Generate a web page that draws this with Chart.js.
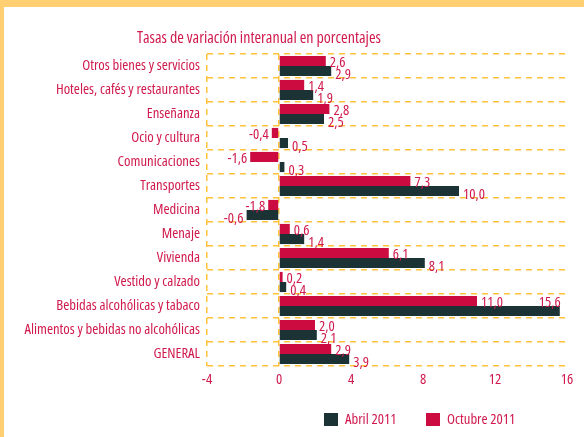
<!DOCTYPE html>
<html>
<head>
<meta charset="utf-8">
<script src="https://cdn.jsdelivr.net/npm/chart.js@4"></script>
<style>
  html, body { margin: 0; padding: 0; background: #fff; }
  #wrap { width: 584px; height: 437px; position: relative; }
</style>
</head>
<body>
<div id="wrap"><canvas id="chart" width="584" height="437"></canvas></div>
<script>
// data
const categories = [
  "Otros bienes y servicios",
  "Hoteles, cafés y restaurantes",
  "Enseñanza",
  "Ocio y cultura",
  "Comunicaciones",
  "Transportes",
  "Medicina",
  "Menaje",
  "Vivienda",
  "Vestido y calzado",
  "Bebidas alcohólicas y tabaco",
  "Alimentos y bebidas no alcohólicas",
  "GENERAL"
];
const octubre2011 = [2.6, 1.4, 2.8, -0.4, -1.6, 7.3, -0.6, 0.6, 6.1, 0.2, 11.0, 2.0, 2.9];
const abril2011   = [2.9, 1.9, 2.5, 0.5, 0.3, 10.0, -1.8, 1.4, 8.1, 0.4, 15.6, 2.1, 3.9];
// value labels as printed on the original (Medicina labels are swapped there)
const octubreText = ["2,6", "1,4", "2,8", "-0,4", "-1,6", "7,3", "-1,8", "0,6", "6,1", "0,2", "11,0", "2,0", "2,9"];
const abrilText   = ["2,9", "1,9", "2,5", "0,5", "0,3", "10,0", "-0,6", "1,4", "8,1", "0,4", "15,6", "2,1", "3,9"];
const xTicks = [-4, 0, 4, 8, 12, 16];

const RED = "#cc0c40";
const DARK = "#1c3335";
const TEXT = "#d01a4d";
const GRID = "#ffc23a";
const FONT = "'Open Sans', sans-serif";
const STRETCH = "condensed";
const SIZE = 14.7;

// orange frame + white background
const framePlugin = {
  id: "frame",
  beforeDraw(chart) {
    const c = chart.ctx;
    c.save();
    c.fillStyle = "#fff";
    c.fillRect(0, 0, chart.width, chart.height);
    c.fillStyle = "#ffcf72";
    c.fillRect(0, 0, chart.width, 7);
    c.fillRect(0, 0, 4, chart.height);
    c.restore();
  }
};

// title, bar value labels and legend
const labelsPlugin = {
  id: "labels",
  afterDatasetsDraw(chart) {
    const c = chart.ctx;
    const area = chart.chartArea;
    c.save();
    c.fillStyle = TEXT;
    c.textBaseline = "middle";

    // title
    c.font = STRETCH + " 16px " + FONT;
    c.textAlign = "left";
    c.fillText("Tasas de variación interanual en porcentajes", 137, 38);

    c.font = STRETCH + " " + SIZE + "px " + FONT;
    const texts = [octubreText, abrilText];
    const dy = [2, 4];
    chart.data.datasets.forEach((ds, di) => {
      const meta = chart.getDatasetMeta(di);
      meta.data.forEach((bar, i) => {
        const v = ds.data[i];
        const t = texts[di][i];
        const w = c.measureText(t).width;
        if (v < 0) {
          c.textAlign = "right";
          c.fillText(t, bar.x - 3, bar.y + dy[di]);
        } else if (bar.x + 4 + w > area.right + 2) {
          // no room on the right: put it above the bar end
          c.textAlign = "right";
          c.fillText(t, bar.x + 1, bar.y - 8);
        } else {
          c.textAlign = "left";
          c.fillText(t, bar.x + 4, bar.y + dy[di]);
        }
      });
    });

    // legend (Abril first, then Octubre)
    const items = [
      { text: "Abril 2011", color: DARK, x: 324 },
      { text: "Octubre 2011", color: RED, x: 426 }
    ];
    c.textAlign = "left";
    items.forEach(it => {
      c.fillStyle = it.color;
      c.fillRect(it.x, 413, 14, 13);
      c.fillStyle = TEXT;
      c.fillText(it.text, it.x + 21, 420);
    });
    c.restore();
  }
};

new Chart(document.getElementById("chart"), {
  type: "bar",
  data: {
    labels: categories,
    datasets: [
      { label: "Octubre 2011", data: octubre2011, backgroundColor: RED },
      { label: "Abril 2011", data: abril2011, backgroundColor: DARK }
    ]
  },
  options: {
    indexAxis: "y",
    responsive: false,
    animation: false,
    devicePixelRatio: 1,
    categoryPercentage: 0.84,
    barPercentage: 1.0,
    layout: { padding: { left: 0, top: 54, right: 17, bottom: 41 } },
    plugins: {
      legend: { display: false },
      tooltip: { enabled: false }
    },
    scales: {
      x: {
        min: -4,
        max: 16,
        afterBuildTicks(scale) {
          scale.ticks = xTicks.map(v => ({ value: v }));
        },
        afterFit(scale) { scale.height = 30; },
        border: { display: false, dash: [6, 5] },
        grid: {
          drawTicks: false,
          color: ctx => (ctx.tick && (ctx.tick.value === -4 || ctx.tick.value === 0)) ? GRID : "rgba(0,0,0,0)",
          lineWidth: 1.5
        },
        ticks: {
          color: TEXT,
          padding: 5,
          font: { family: FONT, size: SIZE, weight: STRETCH }
        }
      },
      y: {
        afterFit(scale) { scale.width = 207; },
        border: { display: false, dash: [6, 5] },
        grid: {
          drawTicks: false,
          offset: true,
          color: GRID,
          lineWidth: 1.5
        },
        ticks: {
          color: TEXT,
          padding: 7,
          font: { family: FONT, size: SIZE, weight: STRETCH }
        }
      }
    }
  },
  plugins: [framePlugin, labelsPlugin]
});
</script>
</body>
</html>
